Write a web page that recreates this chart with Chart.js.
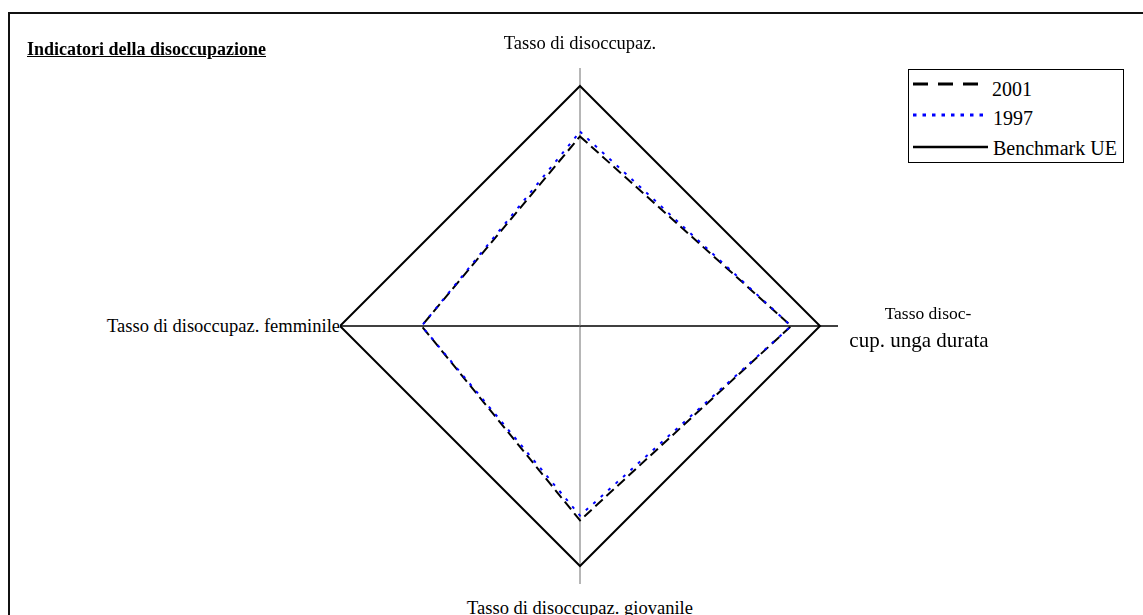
<!DOCTYPE html>
<html>
<head>
<meta charset="utf-8">
<script src="https://cdn.jsdelivr.net/npm/chart.js@4"></script>
<style>
  html, body { margin: 0; padding: 0; background: #fff; }
  #wrap { position: relative; width: 1143px; height: 615px; overflow: hidden;
          font-family: "Liberation Serif", "Times New Roman", serif; color: #000; }
  #frame { position: absolute; left: 8px; top: 12px; width: 1300px; height: 800px;
           border-left: 2px solid #111; border-top: 2px solid #111; }
  canvas { position: absolute; left: 0; top: 0; }
  .txt { position: absolute; white-space: nowrap; }
  .txt span { background: #fff; }
  #title { font-weight: bold; text-decoration: underline; }
  #legendBox { position: absolute; left: 908px; top: 69px; width: 214px; height: 92px;
               border: 1px solid #000; }
  #legendSwatch { position: absolute; left: 0; top: 0; }
</style>
</head>
<body>
<div id="wrap">
  <div id="frame"></div>
  <canvas id="radarChart" width="1143" height="615"></canvas>
  <div id="legendBox"></div>
  <svg id="legendSwatch" width="1143" height="615"></svg>
</div>
<script>
// ===== DATA =====
const categories = [
  "Tasso di disoccupaz.",
  ["Tasso disoc-", "cup. unga durata"],
  "Tasso di disoccupaz. giovanile",
  "Tasso di disoccupaz. femminile"
];
const seriesNames = ["2001", "1997", "Benchmark UE"];
const values2001 = [79, 88, 81, 66];
const values1997 = [81, 88, 79, 66];
const valuesBenchmark = [100, 100, 100, 100];
const chartTitle = "Indicatori della disoccupazione";

// ===== TEXT HELPERS =====
// place a text so its baseline sits at y (Liberation Serif, line-height = font size)
function addText(str, opts) {
  const el = document.createElement("div");
  el.className = "txt";
  const fs = opts.size;
  el.style.fontSize = fs + "px";
  el.style.lineHeight = fs + "px";
  el.style.top = (opts.baseline - 0.8375 * fs) + "px";
  if (opts.align === "center") {
    el.style.left = (opts.x - 300) + "px";
    el.style.width = "600px";
    el.style.textAlign = "center";
  } else if (opts.align === "right") {
    el.style.left = (opts.x - 600) + "px";
    el.style.width = "600px";
    el.style.textAlign = "right";
  } else {
    el.style.left = opts.x + "px";
  }
  const span = document.createElement("span");
  span.textContent = str;
  el.appendChild(span);
  if (opts.id) el.id = opts.id;
  document.getElementById("wrap").appendChild(el);
  return el;
}

addText(chartTitle, { id: "title", x: 27, baseline: 55, size: 18 });

// axis labels (positions per category)
const labelLayout = [
  [{ x: 580, baseline: 49, size: 18.5, align: "center" }],
  [{ x: 928, baseline: 320, size: 17.5, align: "center" },
   { x: 919, baseline: 348, size: 21, align: "center" }],
  [{ x: 580, baseline: 614, size: 18.5, align: "center" }],
  [{ x: 340, baseline: 332, size: 18.5, align: "right" }]
];
categories.forEach((cat, i) => {
  const lines = Array.isArray(cat) ? cat : [cat];
  lines.forEach((line, j) => addText(line, labelLayout[i][j]));
});

// ===== LEGEND =====
const legendStyles = [
  { color: "#000",    width: 3,   dash: "15 10", x2: 980, y: 84 },
  { color: "#0000ff", width: 3,   dash: "3.5 6", x2: 988, y: 115 },
  { color: "#000",    width: 2.5, dash: "",      x2: 988, y: 147 }
];
const legendTextPos = [
  { x: 992, baseline: 96 },
  { x: 993, baseline: 125 },
  { x: 993, baseline: 155 }
];
const svg = document.getElementById("legendSwatch");
seriesNames.forEach((name, i) => {
  const s = legendStyles[i];
  const ln = document.createElementNS("http://www.w3.org/2000/svg", "line");
  ln.setAttribute("x1", 913);
  ln.setAttribute("x2", s.x2);
  ln.setAttribute("y1", s.y);
  ln.setAttribute("y2", s.y);
  ln.setAttribute("stroke", s.color);
  ln.setAttribute("stroke-width", s.width);
  if (s.dash) ln.setAttribute("stroke-dasharray", s.dash);
  svg.appendChild(ln);
  addText(name, { x: legendTextPos[i].x, baseline: legendTextPos[i].baseline, size: 20 });
});

// ===== RADAR CHART =====
const ctx = document.getElementById("radarChart").getContext("2d");
new Chart(ctx, {
  type: "radar",
  data: {
    labels: categories,
    datasets: [
      {
        label: seriesNames[1],
        data: values1997,
        borderColor: "#0000ff",
        borderWidth: 2,
        borderDash: [3, 7],
        fill: false,
        pointRadius: 0,
        order: 1
      },
      {
        label: seriesNames[0],
        data: values2001,
        borderColor: "#000",
        borderWidth: 2,
        borderDash: [10, 5],
        fill: false,
        pointRadius: 0,
        order: 2
      },
      {
        label: seriesNames[2],
        data: valuesBenchmark,
        borderColor: "#000",
        borderWidth: 2,
        fill: false,
        pointRadius: 0,
        order: 3
      }
    ]
  },
  options: {
    responsive: false,
    animation: false,
    layout: { padding: { left: 322, top: 68, right: 305, bottom: 31 } },
    elements: { line: { tension: 0 } },
    plugins: {
      legend: { display: false },
      tooltip: { enabled: false }
    },
    scales: {
      r: {
        min: 0,
        max: 107.5,
        grid: { display: false },
        ticks: { display: false },
        pointLabels: { display: false },
        angleLines: {
          display: true,
          // vertical axis grey, horizontal axis black as in the source
          lineWidth: c => (c.index % 2 === 0 ? 1 : 1.4),
          color: c => (c.index % 2 === 0 ? "#6e6e6e" : "#000")
        }
      }
    }
  }
});
</script>
</body>
</html>
